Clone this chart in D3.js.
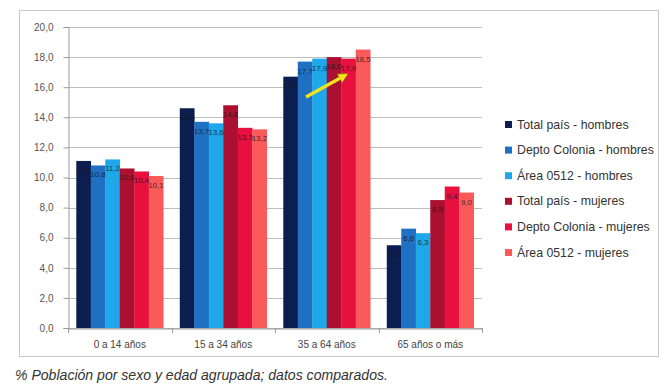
<!DOCTYPE html>
<html><head><meta charset="utf-8">
<script src="https://cdn.jsdelivr.net/npm/d3@7"></script>
<style>body{margin:0;background:#fff}svg{display:block}</style>
</head><body>
<script>
const categories = ["0 a 14 años", "15 a 34 años", "35 a 64 años", "65 años o más"];
const seriesNames = ["Total país - hombres", "Depto Colonia - hombres", "Área 0512 - hombres",
                     "Total país - mujeres", "Depto Colonia - mujeres", "Área 0512 - mujeres"];
const totalPaisHombres   = [11.1, 14.6, 16.7, 5.5];
const deptoColoniaHombres = [10.8, 13.7, 17.7, 6.6];
const area0512Hombres    = [11.2, 13.6, 17.9, 6.3];
const totalPaisMujeres   = [10.6, 14.8, 18.0, 8.5];
const deptoColoniaMujeres = [10.4, 13.3, 17.9, 9.4];
const area0512Mujeres    = [10.1, 13.2, 18.5, 9.0];
const yTicks = [0, 2, 4, 6, 8, 10, 12, 14, 16, 18, 20];
const colors = ["#0c1d50", "#1f6fc2", "#1ea8ea", "#ab1030", "#e8103f", "#fa5a5a"];
const caption = "% Población por sexo y edad agrupada; datos comparados.";

const series = [totalPaisHombres, deptoColoniaHombres, area0512Hombres,
                totalPaisMujeres, deptoColoniaMujeres, area0512Mujeres];

const W = 665, H = 385;
const svg = d3.select("body").append("svg").attr("width", W).attr("height", H);
const font = "'Liberation Sans', Arial, sans-serif";

function fit(sel, target) {
  sel.each(function () {
    const w = this.getComputedTextLength();
    const fs = parseFloat(this.getAttribute("font-size"));
    if (w > 0) this.setAttribute("font-size", (fs * target / w).toFixed(2));
  });
}

// chart frame
svg.append("rect").attr("x", 19.5).attr("y", 10.5).attr("width", 639).attr("height", 346)
  .attr("fill", "#fff").attr("stroke", "#c8c8c8").attr("stroke-width", 1);

const x0 = d3.scaleBand().domain(categories).range([68, 482]).paddingInner(0.16).paddingOuter(0.08);
const x1 = d3.scaleBand().domain(d3.range(series.length)).range([0, x0.bandwidth()]);
const y = d3.scaleLinear().domain([0, 20]).range([328, 27]);

// gridlines
svg.append("g").selectAll("line").data(yTicks).join("line")
  .attr("x1", 68).attr("x2", 482)
  .attr("y1", d => Math.round(y(d)) + 0.5).attr("y2", d => Math.round(y(d)) + 0.5)
  .attr("stroke", "#bdbdbd").attr("stroke-width", 1);

// y axis
const yAxis = d3.axisLeft(y).tickValues(yTicks).tickSize(5).tickPadding(10)
  .tickFormat(d => d3.format(".1f")(d).replace(".", ","));
const gy = svg.append("g").attr("transform", "translate(68.5,0)").call(yAxis);
gy.select(".domain").attr("stroke", "#9a9a9a");
gy.selectAll(".tick line").attr("stroke", "#9a9a9a");
gy.selectAll(".tick text").attr("font-family", font).attr("font-size", 10).attr("fill", "#555");

// x axis
const xAxis = d3.axisBottom(x0).tickSize(0).tickPadding(12);
const gx = svg.append("g").attr("transform", "translate(0,328.5)").call(xAxis);
gx.select(".domain").attr("stroke", "#9a9a9a");
gx.selectAll(".tick text").attr("font-family", font).attr("font-size", 10).attr("fill", "#444");
// boundary ticks
const step = x0.step();
svg.append("g").selectAll("line").data(d3.range(categories.length + 1)).join("line")
  .attr("x1", i => Math.round(68 + i * step) + 0.5).attr("x2", i => Math.round(68 + i * step) + 0.5)
  .attr("y1", 328).attr("y2", 333).attr("stroke", "#9a9a9a");

// bars
const groups = svg.append("g").selectAll("g").data(categories).join("g")
  .attr("transform", d => `translate(${x0(d)},0)`);
groups.selectAll("rect").data((c, ci) => series.map((s, si) => ({ si, v: s[ci] }))).join("rect")
  .attr("x", d => x1(d.si)).attr("width", x1.bandwidth() + 0.3)
  .attr("y", d => y(d.v)).attr("height", d => y(0) - y(d.v))
  .attr("fill", d => colors[d.si]);

// data labels
groups.selectAll("text").data((c, ci) => series.map((s, si) => ({ si, v: s[ci] }))).join("text")
  .attr("x", d => x1(d.si) + x1.bandwidth() / 2).attr("y", d => y(d.v) + 12)
  .attr("text-anchor", "middle").attr("font-family", font).attr("font-size", 8)
  .attr("fill", "#1a1a1a").attr("opacity", 0.8)
  .text(d => d3.format(".1f")(d.v).replace(".", ","));

// yellow arrow
const defs = svg.append("defs");
defs.append("marker").attr("id", "ah").attr("viewBox", "0 0 10 10").attr("refX", 5).attr("refY", 5)
  .attr("markerWidth", 3.2).attr("markerHeight", 3.2).attr("orient", "auto")
  .append("path").attr("d", "M0,0 L10,5 L0,10 z").attr("fill", "#f2e41c").attr("stroke", "#7a6a00").attr("stroke-width", 0.6);
svg.append("line").attr("x1", 306).attr("y1", 97).attr("x2", 344).attr("y2", 76)
  .attr("stroke", "#f2e41c").attr("stroke-width", 3.2).attr("marker-end", "url(#ah)");

// legend
const lg = svg.append("g").selectAll("g").data(seriesNames).join("g")
  .attr("transform", (d, i) => `translate(505,${125 + i * 25.6})`);
lg.append("rect").attr("x", 0).attr("y", -4).attr("width", 7).attr("height", 7).attr("fill", (d, i) => colors[i]);
lg.append("text").attr("x", 12).attr("y", 3.5).attr("font-family", font).attr("font-size", 10)
  .attr("fill", "#333").text(d => d);
fit(lg.filter((d, i) => i === 1).select("text"), 137);
const lfs = lg.filter((d, i) => i === 1).select("text").attr("font-size");
lg.selectAll("text").attr("font-size", lfs);

// caption
const cap = svg.append("text").attr("x", 15).attr("y", 380).attr("font-family", font)
  .attr("font-size", 12).attr("font-style", "italic").attr("fill", "#333").text(caption);
fit(cap, 373);
</script>
</body></html>
